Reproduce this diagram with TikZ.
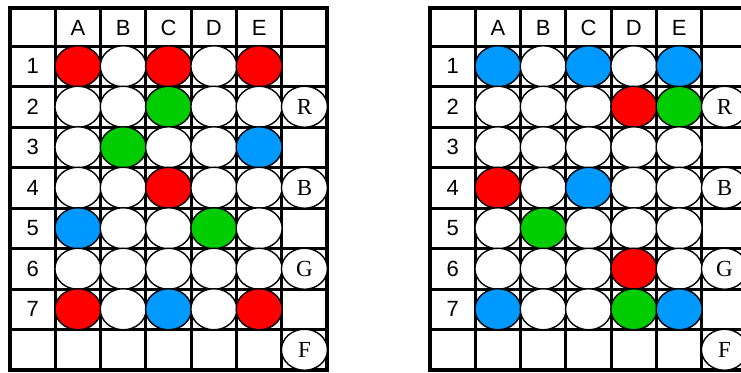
\documentclass[tikz,border=0pt]{standalone}
\usepackage{fontspec}
\setmainfont{Liberation Serif}
\setsansfont{Liberation Sans}
\usepackage{xcolor}
\usepackage{tikz}
\usetikzlibrary{shapes.geometric, positioning}

\definecolor{pegred}{RGB}{255,0,0}
\definecolor{peggreen}{RGB}{0,204,0}
\definecolor{pegblue}{RGB}{0,153,255}

% one board: #1 name, #2 shift, #3 rows of pegs
\newcommand{\pegboard}[3]{%
  \begin{scope}[xshift=#2]
    \foreach \i in {1,...,6}
      \draw[gridline] ({10+45.3*\i},8) -- ({10+45.3*\i},370);
    \foreach \j in {0,...,7}
      \draw[gridline] (10,{46+40.5*\j}) -- (327,{46+40.5*\j});
    \draw[frame] (10,8) rectangle (327,370);
    \foreach \l [count=\i] in {A,B,C,D,E}
      \node[head] (#1-col-\l) at ({32.65+45.3*\i},27.5) {\l};
    \foreach \r in {1,...,7}
      \node[head] (#1-row-\r) at (32.65,{25.75+40.5*\r}) {\r};
    \foreach \r/\pegs in {#3}
      \foreach \c [count=\i] in \pegs
        \node[peg, fill=\c] (#1-\r-\i) at ({32.65+45.3*\i},{25.75+40.5*\r}) {};
    \foreach \r/\k in {2/R,4/B,6/G,8/F}
      \node[peg, key] (#1-key-\k) at (304.45,{25.75+40.5*\r}) {\k};
  \end{scope}}

\begin{document}
\begin{tikzpicture}[
    x=1pt, y=-1pt,
    peg/.style={ellipse, draw, line width=1.4pt, minimum width=46pt, minimum height=41pt, inner sep=0pt},
    key/.style={fill=white, font=\fontsize{23}{23}\selectfont\rmfamily},
    head/.style={font=\fontsize{22}{22}\selectfont\sffamily},
    gridline/.style={line width=3pt},
    frame/.style={line width=4pt}
]
\useasboundingbox (0,0) rectangle (741,372);
\clip (0,0) rectangle (741,372);

\pegboard{left}{0pt}{
  1/{pegred,white,pegred,white,pegred},
  2/{white,white,peggreen,white,white},
  3/{white,peggreen,white,white,pegblue},
  4/{white,white,pegred,white,white},
  5/{pegblue,white,white,peggreen,white},
  6/{white,white,white,white,white},
  7/{pegred,white,pegblue,white,pegred}}

\pegboard{right}{420pt}{
  1/{pegblue,white,pegblue,white,pegblue},
  2/{white,white,white,pegred,peggreen},
  3/{white,white,white,white,white},
  4/{pegred,white,pegblue,white,white},
  5/{white,peggreen,white,white,white},
  6/{white,white,white,pegred,white},
  7/{pegblue,white,white,peggreen,pegblue}}

\end{tikzpicture}
\end{document}
